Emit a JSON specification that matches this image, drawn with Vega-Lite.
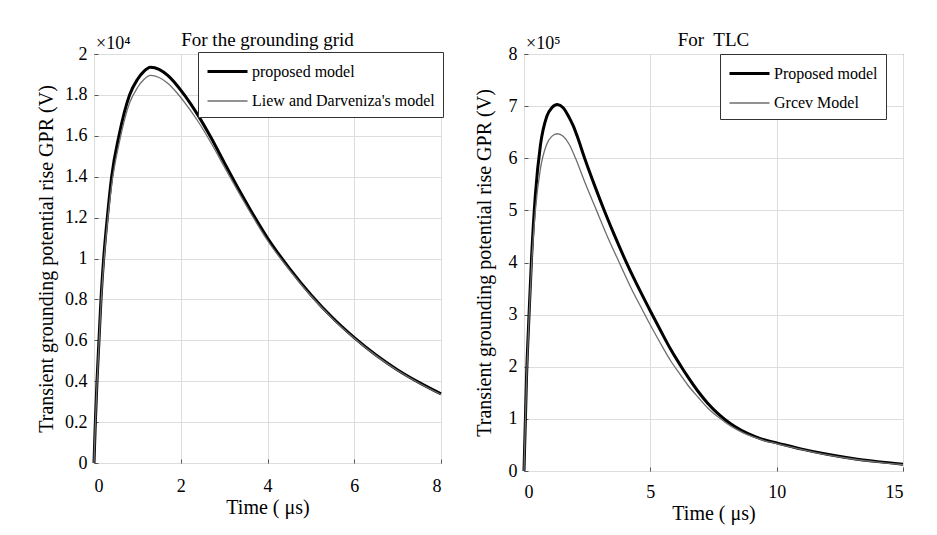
{
  "$schema": "https://vega.github.io/schema/vega-lite/v6.json",
  "background": "white",
  "padding": {"left": 36, "top": 30, "right": 5, "bottom": 5},
  "bounds": "flush",
  "spacing": 83,
  "config": {
    "font": "Liberation Serif",
    "view": {"stroke": "#333333", "strokeWidth": 1},
    "axis": {
      "labelFont": "Liberation Serif", "labelFontSize": 18, "labelColor": "black",
      "titleFont": "Liberation Serif", "titleFontSize": 20, "titleFontWeight": "normal", "titleColor": "black",
      "gridColor": "#dddddd", "gridWidth": 1, "gridOpacity": 1,
      "domain": false, "ticks": true, "tickSize": -4, "tickColor": "#555555",
      "labelPadding": 11, "format": "~g"
    },
    "axisX": {"titlePadding": 2},
    "title": {"font": "Liberation Serif", "fontSize": 19, "fontWeight": "normal", "color": "black", "offset": -15},
    "legend": {
      "strokeColor": "#333333", "fillColor": "white",
      "padding": 8, "rowPadding": 10, "labelFont": "Liberation Serif", "labelFontSize": 16, "labelColor": "black",
      "labelLimit": 400, "symbolType": "M-1,0H3", "symbolSize": 400, "labelOffset": 23
    }
  },
  "datasets": {
    "grid": [
      {"t": 0, "v": 0, "model": "proposed model"},
      {"t": 0.031, "v": 0.2, "model": "proposed model"},
      {"t": 0.069, "v": 0.4, "model": "proposed model"},
      {"t": 0.115, "v": 0.6, "model": "proposed model"},
      {"t": 0.161, "v": 0.8, "model": "proposed model"},
      {"t": 0.223, "v": 1.0, "model": "proposed model"},
      {"t": 0.307, "v": 1.2, "model": "proposed model"},
      {"t": 0.407, "v": 1.4, "model": "proposed model"},
      {"t": 0.576, "v": 1.6, "model": "proposed model"},
      {"t": 0.82, "v": 1.8, "model": "proposed model"},
      {"t": 1.0, "v": 1.875, "model": "proposed model"},
      {"t": 1.15, "v": 1.915, "model": "proposed model"},
      {"t": 1.3, "v": 1.935, "model": "proposed model"},
      {"t": 1.5, "v": 1.925, "model": "proposed model"},
      {"t": 1.7, "v": 1.895, "model": "proposed model"},
      {"t": 1.9, "v": 1.85, "model": "proposed model"},
      {"t": 2.1, "v": 1.795, "model": "proposed model"},
      {"t": 2.4, "v": 1.7, "model": "proposed model"},
      {"t": 2.7, "v": 1.59, "model": "proposed model"},
      {"t": 3.0, "v": 1.47, "model": "proposed model"},
      {"t": 3.3, "v": 1.352, "model": "proposed model"},
      {"t": 3.6, "v": 1.24, "model": "proposed model"},
      {"t": 4.0, "v": 1.1, "model": "proposed model"},
      {"t": 4.5, "v": 0.953, "model": "proposed model"},
      {"t": 5.0, "v": 0.823, "model": "proposed model"},
      {"t": 5.5, "v": 0.71, "model": "proposed model"},
      {"t": 6.0, "v": 0.613, "model": "proposed model"},
      {"t": 6.5, "v": 0.528, "model": "proposed model"},
      {"t": 7.0, "v": 0.455, "model": "proposed model"},
      {"t": 7.5, "v": 0.393, "model": "proposed model"},
      {"t": 8.0, "v": 0.338, "model": "proposed model"},
      {"t": 0, "v": 0, "model": "Liew and Darveniza's model"},
      {"t": 0.031, "v": 0.19, "model": "Liew and Darveniza's model"},
      {"t": 0.069, "v": 0.39, "model": "Liew and Darveniza's model"},
      {"t": 0.115, "v": 0.58, "model": "Liew and Darveniza's model"},
      {"t": 0.161, "v": 0.78, "model": "Liew and Darveniza's model"},
      {"t": 0.223, "v": 0.97, "model": "Liew and Darveniza's model"},
      {"t": 0.307, "v": 1.17, "model": "Liew and Darveniza's model"},
      {"t": 0.407, "v": 1.36, "model": "Liew and Darveniza's model"},
      {"t": 0.576, "v": 1.56, "model": "Liew and Darveniza's model"},
      {"t": 0.82, "v": 1.76, "model": "Liew and Darveniza's model"},
      {"t": 1.0, "v": 1.835, "model": "Liew and Darveniza's model"},
      {"t": 1.15, "v": 1.875, "model": "Liew and Darveniza's model"},
      {"t": 1.3, "v": 1.895, "model": "Liew and Darveniza's model"},
      {"t": 1.5, "v": 1.885, "model": "Liew and Darveniza's model"},
      {"t": 1.7, "v": 1.857, "model": "Liew and Darveniza's model"},
      {"t": 1.9, "v": 1.813, "model": "Liew and Darveniza's model"},
      {"t": 2.1, "v": 1.76, "model": "Liew and Darveniza's model"},
      {"t": 2.4, "v": 1.67, "model": "Liew and Darveniza's model"},
      {"t": 2.7, "v": 1.565, "model": "Liew and Darveniza's model"},
      {"t": 3.0, "v": 1.45, "model": "Liew and Darveniza's model"},
      {"t": 3.3, "v": 1.336, "model": "Liew and Darveniza's model"},
      {"t": 3.6, "v": 1.226, "model": "Liew and Darveniza's model"},
      {"t": 4.0, "v": 1.088, "model": "Liew and Darveniza's model"},
      {"t": 4.5, "v": 0.946, "model": "Liew and Darveniza's model"},
      {"t": 5.0, "v": 0.818, "model": "Liew and Darveniza's model"},
      {"t": 5.5, "v": 0.706, "model": "Liew and Darveniza's model"},
      {"t": 6.0, "v": 0.61, "model": "Liew and Darveniza's model"},
      {"t": 6.5, "v": 0.525, "model": "Liew and Darveniza's model"},
      {"t": 7.0, "v": 0.452, "model": "Liew and Darveniza's model"},
      {"t": 7.5, "v": 0.39, "model": "Liew and Darveniza's model"},
      {"t": 8.0, "v": 0.335, "model": "Liew and Darveniza's model"}
    ],
    "tlc": [
      {"t": 0, "v": 0, "model": "Proposed model"},
      {"t": 0.1, "v": 1.8, "model": "Proposed model"},
      {"t": 0.2, "v": 3.0, "model": "Proposed model"},
      {"t": 0.3, "v": 4.1, "model": "Proposed model"},
      {"t": 0.45, "v": 5.3, "model": "Proposed model"},
      {"t": 0.65, "v": 6.25, "model": "Proposed model"},
      {"t": 0.9, "v": 6.8, "model": "Proposed model"},
      {"t": 1.1, "v": 6.97, "model": "Proposed model"},
      {"t": 1.32, "v": 7.03, "model": "Proposed model"},
      {"t": 1.55, "v": 6.97, "model": "Proposed model"},
      {"t": 1.8, "v": 6.77, "model": "Proposed model"},
      {"t": 1.95, "v": 6.62, "model": "Proposed model"},
      {"t": 2.1, "v": 6.43, "model": "Proposed model"},
      {"t": 2.4, "v": 6.0, "model": "Proposed model"},
      {"t": 2.8, "v": 5.47, "model": "Proposed model"},
      {"t": 3.2, "v": 4.97, "model": "Proposed model"},
      {"t": 3.6, "v": 4.5, "model": "Proposed model"},
      {"t": 4.1, "v": 3.95, "model": "Proposed model"},
      {"t": 4.6, "v": 3.45, "model": "Proposed model"},
      {"t": 5.0, "v": 3.07, "model": "Proposed model"},
      {"t": 5.4, "v": 2.7, "model": "Proposed model"},
      {"t": 5.81, "v": 2.33, "model": "Proposed model"},
      {"t": 6.2, "v": 2.02, "model": "Proposed model"},
      {"t": 6.48, "v": 1.81, "model": "Proposed model"},
      {"t": 6.9, "v": 1.52, "model": "Proposed model"},
      {"t": 7.27, "v": 1.3, "model": "Proposed model"},
      {"t": 7.7, "v": 1.09, "model": "Proposed model"},
      {"t": 8.19, "v": 0.9, "model": "Proposed model"},
      {"t": 8.6, "v": 0.78, "model": "Proposed model"},
      {"t": 9.1, "v": 0.67, "model": "Proposed model"},
      {"t": 9.5, "v": 0.6, "model": "Proposed model"},
      {"t": 10, "v": 0.54, "model": "Proposed model"},
      {"t": 11, "v": 0.42, "model": "Proposed model"},
      {"t": 12, "v": 0.32, "model": "Proposed model"},
      {"t": 13, "v": 0.24, "model": "Proposed model"},
      {"t": 14, "v": 0.18, "model": "Proposed model"},
      {"t": 15, "v": 0.13, "model": "Proposed model"},
      {"t": 0, "v": 0, "model": "Grcev Model"},
      {"t": 0.1, "v": 1.75, "model": "Grcev Model"},
      {"t": 0.2, "v": 2.95, "model": "Grcev Model"},
      {"t": 0.3, "v": 3.95, "model": "Grcev Model"},
      {"t": 0.45, "v": 5.0, "model": "Grcev Model"},
      {"t": 0.65, "v": 5.8, "model": "Grcev Model"},
      {"t": 0.9, "v": 6.27, "model": "Grcev Model"},
      {"t": 1.1, "v": 6.42, "model": "Grcev Model"},
      {"t": 1.32, "v": 6.47, "model": "Grcev Model"},
      {"t": 1.55, "v": 6.42, "model": "Grcev Model"},
      {"t": 1.8, "v": 6.26, "model": "Grcev Model"},
      {"t": 2.04, "v": 6.0, "model": "Grcev Model"},
      {"t": 2.44, "v": 5.5, "model": "Grcev Model"},
      {"t": 2.87, "v": 5.0, "model": "Grcev Model"},
      {"t": 3.3, "v": 4.5, "model": "Grcev Model"},
      {"t": 3.77, "v": 4.0, "model": "Grcev Model"},
      {"t": 4.3, "v": 3.45, "model": "Grcev Model"},
      {"t": 4.6, "v": 3.17, "model": "Grcev Model"},
      {"t": 5.0, "v": 2.8, "model": "Grcev Model"},
      {"t": 5.4, "v": 2.45, "model": "Grcev Model"},
      {"t": 5.81, "v": 2.11, "model": "Grcev Model"},
      {"t": 6.2, "v": 1.84, "model": "Grcev Model"},
      {"t": 6.48, "v": 1.65, "model": "Grcev Model"},
      {"t": 6.9, "v": 1.41, "model": "Grcev Model"},
      {"t": 7.27, "v": 1.21, "model": "Grcev Model"},
      {"t": 7.7, "v": 1.03, "model": "Grcev Model"},
      {"t": 8.19, "v": 0.86, "model": "Grcev Model"},
      {"t": 8.6, "v": 0.75, "model": "Grcev Model"},
      {"t": 9.1, "v": 0.65, "model": "Grcev Model"},
      {"t": 9.5, "v": 0.585, "model": "Grcev Model"},
      {"t": 10, "v": 0.525, "model": "Grcev Model"},
      {"t": 11, "v": 0.41, "model": "Grcev Model"},
      {"t": 12, "v": 0.31, "model": "Grcev Model"},
      {"t": 13, "v": 0.23, "model": "Grcev Model"},
      {"t": 14, "v": 0.17, "model": "Grcev Model"},
      {"t": 15, "v": 0.12, "model": "Grcev Model"}
    ]
  },
  "resolve": {
    "scale": {"color": "independent", "strokeWidth": "independent"},
    "legend": {"color": "independent", "strokeWidth": "independent"}
  },
  "hconcat": [
    {
      "width": 347,
      "height": 409,
      "title": {"text": "For the grounding grid"},
      "layer": [
        {
          "data": {"name": "grid"},
          "mark": {"type": "line", "interpolate": "monotone"},
          "encoding": {
            "x": {"field": "t", "type": "quantitative", "title": "Time ( μs)",
                  "scale": {"domain": [0, 8], "nice": false},
                  "axis": {"values": [0, 2, 4, 6, 8], "labelPadding": 18}},
            "y": {"field": "v", "type": "quantitative", "title": "Transient grounding potential rise GPR (V)",
                  "scale": {"domain": [0, 2], "nice": false},
                  "axis": {"values": [0, 0.2, 0.4, 0.6, 0.8, 1, 1.2, 1.4, 1.6, 1.8, 2], "titlePadding": 8}},
            "color": {"field": "model", "type": "nominal",
                      "scale": {"domain": ["proposed model", "Liew and Darveniza's model"], "range": ["#000000", "#6e6e6e"]},
                      "legend": {"title": null, "orient": "none", "legendX": 104, "legendY": -2}},
            "strokeWidth": {"field": "model", "type": "nominal",
                            "scale": {"domain": ["proposed model", "Liew and Darveniza's model"], "range": [3, 1.3]},
                            "legend": {"title": null, "orient": "none", "legendX": 104, "legendY": -2}},
            "order": {"field": "t", "type": "quantitative"}
          }
        },
        {
          "data": {"values": [{"label": "×10⁴"}]},
          "mark": {"type": "text", "align": "left", "baseline": "bottom", "fontSize": 18, "dx": 2, "dy": -1, "font": "Liberation Serif", "color": "black"},
          "encoding": {
            "x": {"datum": 0, "type": "quantitative"},
            "y": {"datum": 2, "type": "quantitative"},
            "text": {"field": "label"}
          }
        }
      ]
    },
    {
      "width": 379,
      "height": 417,
      "title": {"text": "For\u00a0 TLC"},
      "layer": [
        {
          "data": {"name": "tlc"},
          "mark": {"type": "line", "interpolate": "monotone"},
          "encoding": {
            "x": {"field": "t", "type": "quantitative", "title": "Time ( μs)",
                  "scale": {"domain": [0, 15], "nice": false},
                  "axis": {"values": [0, 5, 10, 15], "labelPadding": 16}},
            "y": {"field": "v", "type": "quantitative", "title": "Transient grounding potential rise GPR (V)",
                  "scale": {"domain": [0, 8], "nice": false},
                  "axis": {"values": [0, 1, 2, 3, 4, 5, 6, 7, 8], "titlePadding": 14}},
            "color": {"field": "model", "type": "nominal",
                      "scale": {"domain": ["Proposed model", "Grcev Model"], "range": ["#000000", "#6e6e6e"]},
                      "legend": {"title": null, "orient": "none", "legendX": 196, "legendY": 0}},
            "strokeWidth": {"field": "model", "type": "nominal",
                            "scale": {"domain": ["Proposed model", "Grcev Model"], "range": [3, 1.3]},
                            "legend": {"title": null, "orient": "none", "legendX": 196, "legendY": 0}},
            "order": {"field": "t", "type": "quantitative"}
          }
        },
        {
          "data": {"values": [{"label": "×10⁵"}]},
          "mark": {"type": "text", "align": "left", "baseline": "bottom", "fontSize": 18, "dx": 2, "dy": -1, "font": "Liberation Serif", "color": "black"},
          "encoding": {
            "x": {"datum": 0, "type": "quantitative"},
            "y": {"datum": 8, "type": "quantitative"},
            "text": {"field": "label"}
          }
        }
      ]
    }
  ]
}
